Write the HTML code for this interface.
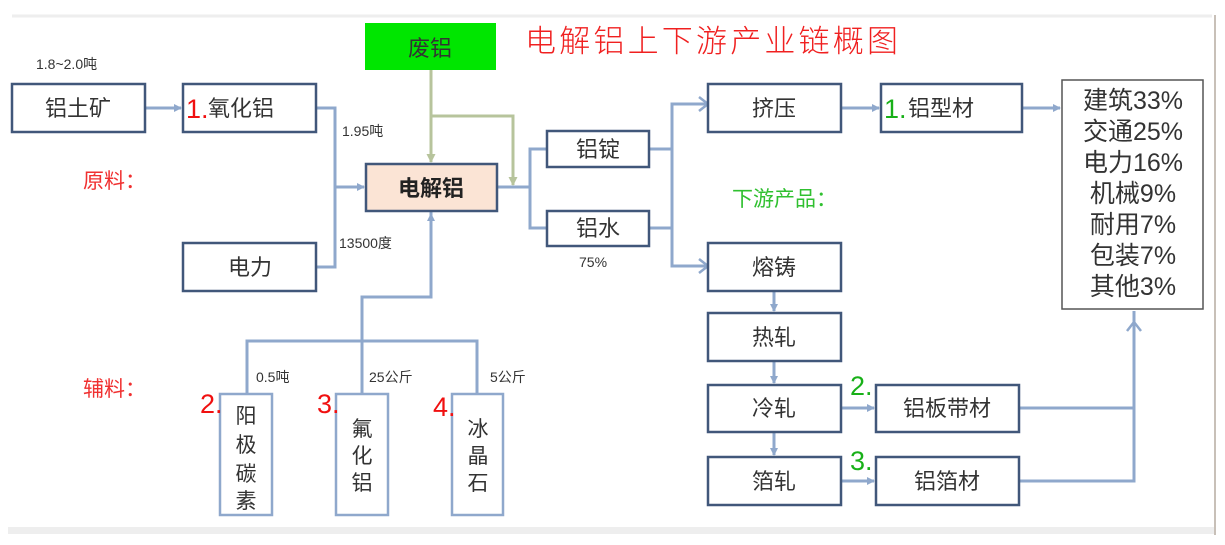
<!DOCTYPE html>
<html><head><meta charset="utf-8"><style>
html,body{margin:0;padding:0;background:#fff;}
svg{display:block;}
text{font-family:"Liberation Sans","Noto Sans CJK SC",sans-serif;}
</style></head><body>
<svg width="1225" height="545" viewBox="0 0 1225 545" xmlns="http://www.w3.org/2000/svg">
<defs>
<marker id="a" markerWidth="8" markerHeight="8" refX="7" refY="4" orient="auto" markerUnits="userSpaceOnUse"><path d="M0,0 L8,4 L0,8 z" fill="#8fa8cc"/></marker>
<marker id="g" markerWidth="9" markerHeight="9" refX="8" refY="4.5" orient="auto" markerUnits="userSpaceOnUse"><path d="M0,0 L9,4.5 L0,9 z" fill="#b7c49c"/></marker>
</defs>
<rect x="0" y="0" width="1225" height="545" fill="#fff"/>
<line x1="12" y1="16" x2="1212" y2="16" stroke="#eeeeee" stroke-width="3"/>
<rect x="8" y="527" width="1207" height="7" fill="#eeeeee"/>
<line x1="1215" y1="15" x2="1215" y2="535" stroke="#c8c0b8" stroke-width="2"/>

<text x="525" y="52" font-size="31" fill="#f02020" font-weight="300" textLength="373">电解铝上下游产业链概图</text>

<g fill="none" stroke="#8fa8cc" stroke-width="3">
<line x1="145" y1="108" x2="181" y2="108" marker-end="url(#a)"/>
<polyline points="316,108 335,108 335,267 316,267"/>
<line x1="335" y1="187" x2="364" y2="187" marker-end="url(#a)"/>
<line x1="497" y1="187" x2="530" y2="187"/>
<polyline points="547,149 530,149 530,228 547,228"/>
<polyline points="649,149 672,149"/>
<polyline points="649,228 672,228"/>
<polyline points="706,104 672,104 672,266 706,266"/>
<line x1="841" y1="108" x2="879" y2="108" marker-end="url(#a)"/>
<line x1="1022" y1="108" x2="1060" y2="108" marker-end="url(#a)"/>
<line x1="774" y1="291" x2="774" y2="311" marker-end="url(#a)"/>
<line x1="774" y1="361" x2="774" y2="383" marker-end="url(#a)"/>
<line x1="774" y1="432" x2="774" y2="455" marker-end="url(#a)"/>
<line x1="841" y1="408" x2="874" y2="408" marker-end="url(#a)"/>
<line x1="841" y1="481" x2="874" y2="481" marker-end="url(#a)"/>
<polyline points="1019,408 1134,408"/>
<polyline points="1019,481 1134,481 1134,311"/>
<polyline points="431,212 431,297 362,297 362,394"/>
<line x1="431" y1="230" x2="431" y2="214" marker-end="url(#a)"/>
<polyline points="247,394 247,341 477,341 477,394"/>
</g>
<path d="M699,97 L708,104 L699,111 M699,259 L708,266 L699,273 M1127,331 L1134,322 L1141,331" fill="none" stroke="#8fa8cc" stroke-width="2.5"/>
<line x1="1134" y1="330" x2="1134" y2="322" stroke="#8fa8cc" stroke-width="3"/>

<g fill="none" stroke="#b7c49c" stroke-width="3">
<line x1="431" y1="70" x2="431" y2="162" marker-end="url(#g)"/>
<polyline points="431,116 513,116 513,185" marker-end="url(#g)"/>
</g>

<g stroke="#41577a" stroke-width="2.5" fill="#fff">
<rect x="12" y="84" width="133" height="48"/>
<rect x="183" y="84" width="133" height="48"/>
<rect x="183" y="243" width="133" height="48"/>
<rect x="366" y="164" width="131" height="47" fill="#fbe4d5"/>
<rect x="547" y="131" width="102" height="36"/>
<rect x="547" y="211" width="102" height="35"/>
<rect x="708" y="84" width="133" height="48"/>
<rect x="881" y="84" width="141" height="48"/>
<rect x="708" y="243" width="133" height="48"/>
<rect x="708" y="313" width="133" height="48"/>
<rect x="708" y="385" width="133" height="47"/>
<rect x="708" y="457" width="133" height="48"/>
<rect x="876" y="385" width="143" height="47"/>
<rect x="876" y="457" width="143" height="48"/>
<rect x="220" y="394" width="52" height="121" stroke="#8fa8cc"/>
<rect x="336" y="394" width="52" height="121" stroke="#8fa8cc"/>
<rect x="452" y="394" width="51" height="121" stroke="#8fa8cc"/>
</g>
<rect x="1062" y="80" width="141" height="229" fill="#fff" stroke="#555" stroke-width="1.5"/>
<rect x="365" y="23" width="131" height="47" fill="#00e600"/>

<g font-size="22" fill="#333" text-anchor="middle">
<text x="430" y="56">废铝</text>
<text x="78" y="116">铝土矿</text>
<text x="250" y="275">电力</text>
<text x="431" y="196" font-weight="bold" fill="#222">电解铝</text>
<text x="598" y="157">铝锭</text>
<text x="598" y="236">铝水</text>
<text x="774" y="116">挤压</text>
<text x="774" y="275">熔铸</text>
<text x="774" y="345">热轧</text>
<text x="774" y="416">冷轧</text>
<text x="774" y="489">箔轧</text>
<text x="947" y="416">铝板带材</text>
<text x="947" y="489">铝箔材</text>
</g>
<text x="208" y="116" font-size="22" fill="#333">氧化铝</text>
<text x="186" y="118" font-size="27" fill="#f01010">1.</text>
<text x="908" y="116" font-size="22" fill="#333">铝型材</text>
<text x="884" y="118" font-size="27" fill="#18b018">1.</text>
<text x="850" y="395" font-size="27" fill="#18b018">2.</text>
<text x="850" y="470" font-size="27" fill="#18b018">3.</text>

<g font-size="25" fill="#333" text-anchor="middle">
<text x="1133" y="109">建筑33%</text>
<text x="1133" y="140">交通25%</text>
<text x="1133" y="171">电力16%</text>
<text x="1133" y="202">机械9%</text>
<text x="1133" y="233">耐用7%</text>
<text x="1133" y="264">包装7%</text>
<text x="1133" y="295">其他3%</text>
</g>

<g font-size="21" fill="#333" text-anchor="middle">
<text x="246" y="423">阳</text><text x="246" y="452">极</text><text x="246" y="481">碳</text><text x="246" y="508">素</text>
<text x="362" y="436">氟</text><text x="362" y="463">化</text><text x="362" y="490">铝</text>
<text x="478" y="436">冰</text><text x="478" y="463">晶</text><text x="478" y="490">石</text>
</g>
<text x="200" y="413" font-size="27" fill="#f01010">2.</text>
<text x="317" y="413" font-size="27" fill="#f01010">3.</text>
<text x="433" y="416" font-size="27" fill="#f01010">4.</text>

<g font-size="14" fill="#333">
<text x="36" y="69">1.8~2.0吨</text>
<text x="342" y="136">1.95吨</text>
<text x="339" y="248">13500度</text>
<text x="579" y="267">75%</text>
<text x="256" y="382">0.5吨</text>
<text x="369" y="382">25公斤</text>
<text x="490" y="382">5公斤</text>
</g>
<text x="83" y="188" font-size="21" fill="#f03030">原料：</text>
<text x="83" y="396" font-size="21" fill="#f03030">辅料：</text>
<text x="732" y="206" font-size="21" fill="#30c030">下游产品：</text>
</svg>
</body></html>
